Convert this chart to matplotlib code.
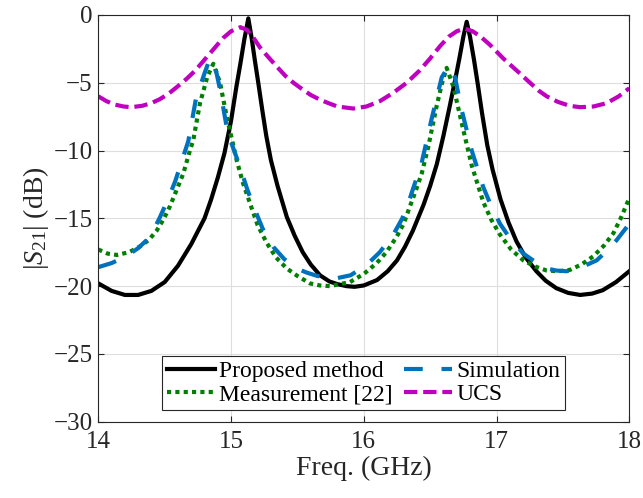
import matplotlib
matplotlib.use('Agg')
import matplotlib.pyplot as plt

plt.rcParams['font.family'] = ['Liberation Serif', 'DejaVu Serif']
plt.rcParams['mathtext.fontset'] = 'custom'
plt.rcParams['mathtext.rm'] = 'Liberation Serif'
plt.rcParams['mathtext.it'] = 'Liberation Serif:italic'

# |S21| curves (GHz, dB)
freq_prop = [14.00, 14.10, 14.20, 14.30, 14.40, 14.50, 14.60, 14.70, 14.80, 14.85, 14.90,
             14.95, 15.00, 15.04, 15.07, 15.10, 15.13, 15.155, 15.18, 15.205, 15.235, 15.265,
             15.30, 15.35, 15.42, 15.48, 15.54, 15.60, 15.67, 15.74, 15.80, 15.87, 15.93,
             16.00, 16.10, 16.18, 16.25, 16.31, 16.37, 16.45, 16.50, 16.55, 16.60, 16.65,
             16.69, 16.72, 16.75, 16.775, 16.80, 16.83, 16.86, 16.89, 16.93, 16.97, 17.03,
             17.09, 17.15, 17.22, 17.30, 17.37, 17.45, 17.54, 17.63, 17.72, 17.80, 17.90, 18.00]
s21_prop = [-19.8, -20.35, -20.65, -20.65, -20.35, -19.7, -18.5, -16.9, -15.0, -13.6, -12.0,
            -10.2, -7.8, -5.3, -3.6, -1.8, -0.25, -1.7, -3.4, -5.0, -7.0, -8.9,
            -10.7, -12.6, -14.9, -16.3, -17.5, -18.4, -19.2, -19.65, -19.85, -20.0, -20.05,
            -19.95, -19.55, -18.9, -18.1, -17.1, -15.9, -14.0, -12.6, -11.0, -8.9, -6.6,
            -4.7, -3.2, -1.6, -0.5, -1.6, -3.3, -5.2, -7.2, -9.6, -11.4, -13.6,
            -15.3, -16.7, -17.9, -18.9, -19.6, -20.15, -20.5, -20.65, -20.55, -20.3, -19.7, -18.9]

freq_sim = [14.00, 14.10, 14.21, 14.30, 14.365, 14.42, 14.465, 14.52, 14.578, 14.615, 14.678,
            14.735, 14.80, 14.83, 14.854, 14.88, 14.917, 14.975, 15.067, 15.12, 15.168, 15.24,
            15.318, 15.40, 15.494, 15.57, 15.65, 15.78, 15.90, 16.02, 16.12, 16.222, 16.29,
            16.348, 16.436, 16.51, 16.587, 16.63, 16.662, 16.687, 16.737, 16.813, 16.90, 16.96,
            17.026, 17.11, 17.202, 17.29, 17.378, 17.45, 17.528, 17.64, 17.754, 17.83, 17.905, 18.00]
s21_sim = [-18.6, -18.3, -17.8, -17.2, -16.6, -15.8, -14.9, -13.7, -12.3, -11.2, -9.3,
           -6.2, -4.3, -3.5, -3.2, -3.8, -5.5, -8.7, -11.2, -12.8, -14.1, -15.8,
           -17.1, -18.0, -18.7, -19.0, -19.25, -19.45, -19.2, -18.45, -17.5, -16.2, -15.0,
           -13.5, -10.9, -7.7, -4.6, -3.9, -3.8, -4.6, -7.0, -10.0, -12.7, -14.1,
           -15.4, -16.6, -17.6, -18.2, -18.7, -18.85, -18.9, -18.6, -18.1, -17.4, -16.6, -15.4]

freq_meas = [14.00, 14.07, 14.14, 14.23, 14.31, 14.38, 14.44, 14.49, 14.54, 14.59, 14.64,
             14.69, 14.716, 14.766, 14.82, 14.866, 14.917, 14.967, 15.042, 15.09, 15.143, 15.20,
             15.268, 15.34, 15.42, 15.50, 15.595, 15.67, 15.745, 15.82, 15.896, 16.00, 16.097,
             16.17, 16.248, 16.30, 16.348, 16.39, 16.436, 16.486, 16.549, 16.59, 16.624, 16.675,
             16.75, 16.813, 16.90, 16.96, 17.026, 17.11, 17.202, 17.29, 17.378, 17.47, 17.553,
             17.64, 17.729, 17.81, 17.88, 17.94, 18.00]
s21_meas = [-17.3, -17.6, -17.7, -17.5, -17.1, -16.6, -15.9, -15.1, -14.1, -12.9, -11.7,
            -10.0, -9.2, -6.5, -4.6, -3.6, -5.0, -7.5, -10.7, -12.4, -13.9, -15.5,
            -16.8, -17.9, -18.7, -19.25, -19.8, -19.95, -20.0, -19.85, -19.7, -19.1, -18.3,
            -17.5, -16.35, -15.4, -14.1, -13.0, -11.7, -9.7, -6.7, -5.0, -3.9, -5.3,
            -8.5, -11.1, -13.8, -15.1, -16.2, -17.3, -18.1, -18.55, -18.85, -18.9, -18.8,
            -18.4, -17.8, -17.0, -16.1, -14.9, -13.5]

freq_ucs = [14.00, 14.06, 14.12, 14.19, 14.25, 14.33, 14.40, 14.465, 14.53, 14.60, 14.666,
            14.73, 14.80, 14.87, 14.94, 15.00, 15.07, 15.12, 15.17, 15.218, 15.28, 15.344,
            15.41, 15.47, 15.54, 15.60, 15.66, 15.72, 15.80, 15.92, 16.02, 16.122, 16.22,
            16.323, 16.42, 16.50, 16.574, 16.64, 16.70, 16.76, 16.82, 16.88, 16.95, 17.05,
            17.152, 17.252, 17.32, 17.378, 17.46, 17.55, 17.629, 17.73, 17.83, 17.92, 18.00]
s21_ucs = [-6.0, -6.35, -6.6, -6.75, -6.8, -6.7, -6.5, -6.2, -5.8, -5.25, -4.7,
           -4.1, -3.3, -2.5, -1.7, -1.2, -0.9, -1.1, -1.7, -2.4, -3.1, -3.8,
           -4.5, -5.0, -5.5, -5.9, -6.2, -6.45, -6.75, -6.9, -6.75, -6.35, -5.75,
           -5.0, -4.1, -3.2, -2.3, -1.6, -1.2, -1.0, -1.2, -1.6, -2.2, -3.2,
           -4.1, -5.0, -5.6, -6.0, -6.4, -6.7, -6.8, -6.75, -6.5, -6.0, -5.4]

labels = ['Proposed method', 'Measurement [22]', 'Simulation', 'UCS']

fig = plt.figure(figsize=(6.43, 4.98), dpi=100)
ax = fig.add_axes([0.1529, 0.1532, 0.8258, 0.8167])

lw = 3
h_prop, = ax.plot(freq_prop, s21_prop, color='black', lw=lw, solid_joinstyle='round')
h_meas, = ax.plot(freq_meas, s21_meas, color='#008000', lw=lw, linestyle=(0, (1, 1)))
h_sim, = ax.plot(freq_sim, s21_sim, color='#0072BD', lw=lw, linestyle=(0, (4.5, 4.5)))
h_ucs, = ax.plot(freq_ucs, s21_ucs, color='#BF00BF', lw=lw, linestyle=(0, (3.2, 1.4)))

ax.set_xlim(14, 18)
ax.set_ylim(-30, 0)
ax.set_xticks([14, 15, 16, 17, 18])
ax.set_yticks([-30, -25, -20, -15, -10, -5, 0])
ax.set_yticklabels(['\u221230', '\u221225', '\u221220', '\u221215', '\u221210', '\u22125', '0'])

ax.grid(True, color='#dedede', lw=0.8)
ax.set_axisbelow(True)
ax.tick_params(direction='in', length=4.5, width=0.8, top=True, right=True,
               labelsize=18, colors='#262626')
ax.tick_params(axis='x', pad=7)
ax.tick_params(axis='y', pad=4)
for sp in ax.spines.values():
    sp.set_color('#262626')
    sp.set_linewidth(0.8)

ax.set_xlabel('Freq. (GHz)', fontsize=20, color='#262626', labelpad=2)
ax.set_ylabel(r'$|S_{21}|$ (dB)', fontsize=20, color='#262626', labelpad=2)

leg = ax.legend([h_prop, h_meas, h_sim, h_ucs], labels, ncol=2, fontsize=17,
                loc='lower center', bbox_to_anchor=(0.499, 0.029), borderaxespad=0,
                handlelength=2.05, handletextpad=0.15, columnspacing=0.5,
                labelspacing=0.05, borderpad=0.2, fancybox=False, framealpha=1)
leg.get_frame().set_edgecolor('#262626')
leg.get_frame().set_linewidth(0.8)

fig.savefig('out.png', dpi=100)
